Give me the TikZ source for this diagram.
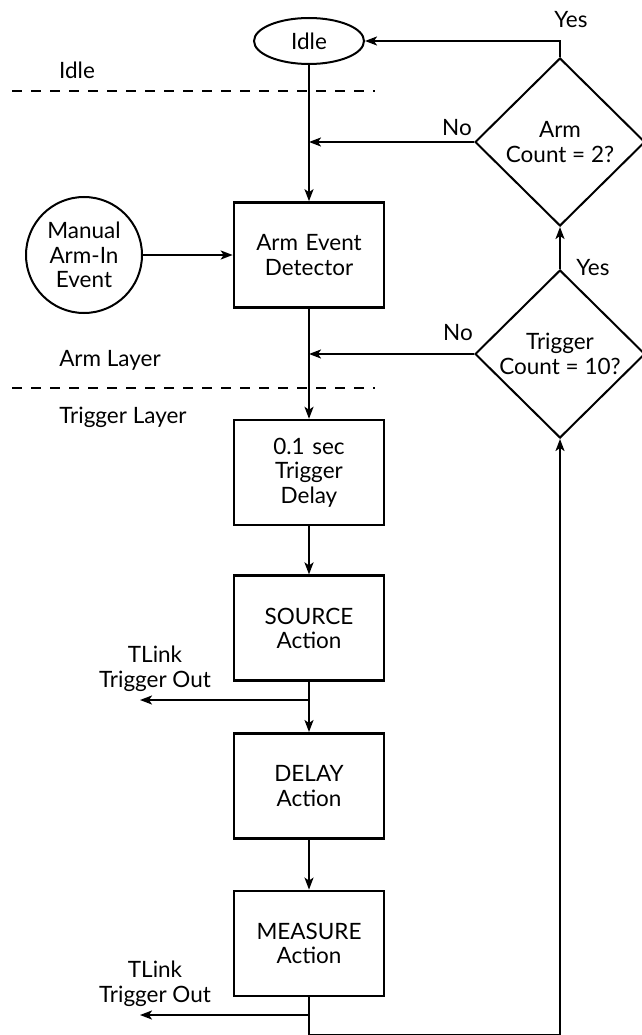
\documentclass[tikz,border=0pt]{standalone}
\usepackage{fontspec}
\setmainfont{Lato}
\usepackage{tikz}
\usetikzlibrary{shapes.geometric, arrows.meta, positioning, calc}

\begin{document}
\begin{tikzpicture}[
    x=1pt, y=1pt,
    node distance=50pt,
    font=\fontsize{22.5}{24.5}\selectfont,
    stagebox/.style={rectangle, draw, line width=2.6pt, minimum width=150pt, minimum height=105pt, text width=146pt, align=center, inner sep=0pt},
    decision/.style={diamond, draw, line width=2pt, aspect=1, minimum width=170pt, minimum height=168pt, inner sep=0pt, align=center},
    event/.style={circle, draw, line width=2pt, minimum size=116pt, inner sep=0pt, align=center},
    arrow/.style={-{Stealth[length=12pt, width=9pt, inset=3pt]}, line width=2pt},
    layerline/.style={line width=2pt, dash pattern=on 10pt off 9pt},
    label/.style={align=center, inner sep=0pt}
]
\useasboundingbox (0,0) rectangle (641,-1035);

\node[ellipse, draw, line width=2pt, minimum width=110pt, minimum height=46pt, inner sep=0pt] (idle) at (309,-41) {Idle};

\node[stagebox] (det) at (309,-255) {Arm Event\\ Detector};
\node[event] (manual) at (84,-255) {Manual\\ Arm-In\\ Event};
\node[stagebox, below=110pt of det] (tdel) {0.1 sec\\ Trigger\\ Delay};
\node[stagebox, below=48pt of tdel] (src) {SOURCE\\ Action};
\node[stagebox, below=of src] (dly) {DELAY\\ Action};
\node[stagebox, below=of dly] (meas) {MEASURE\\ Action};

\node[decision] (armq) at (560,-142) {Arm\\ Count = 2?};
\node[decision] (trigq) at (560,-354) {Trigger\\ Count = 10?};

% layer separators
\coordinate (sepA1) at (12,-91);
\coordinate (sepA2) at (375,-91);
\coordinate (sepB1) at (12,-388);
\coordinate (sepB2) at (375,-388);
\draw[layerline] (sepA1) -- (sepA2);
\draw[layerline] (sepB1) -- (sepB2);

\node[label] (lidle) at (77,-70) {Idle};
\node[label] (larm) at (110,-360) {Arm Layer};
\node[label] (ltrig) at (123,-417) {Trigger Layer};

% main flow
\draw[arrow] (idle) -- (det);
\draw[arrow] (manual) -- (det);
\draw[arrow] (det) -- (tdel);
\draw[arrow] (tdel) -- (src);
\draw[arrow] (src) -- (dly);
\draw[arrow] (dly) -- (meas);

% trigger outputs
\coordinate (out1) at (140,-700);
\coordinate (out2) at (140,-1015);
\draw[arrow] (src.south |- out1) -- (out1);
\draw[arrow] (meas.south |- out2) -- (out2);
\node[label] (tl1) at (155,-669) {TLink\\ Trigger Out};
\node[label] (tl2) at (155,-984) {TLink\\ Trigger Out};

% count loops
\coordinate (loopc) at (560,-1035);
\draw[arrow] (meas.south) |- (loopc) -- (trigq.south);
\draw[arrow] (trigq.west) -- (trigq.west -| det.north);
\draw[arrow] (trigq.north) -- (armq.south);
\draw[arrow] (armq.west) -- (armq.west -| idle.south);
\draw[arrow] (armq.north) |- (idle.east);

\node[label] (no1) at (457,-128) {No};
\node[label] (no2) at (458,-333) {No};
\node[label] (yes1) at (571,-20) {Yes};
\node[label] (yes2) at (593,-268) {Yes};

\end{tikzpicture}
\end{document}
